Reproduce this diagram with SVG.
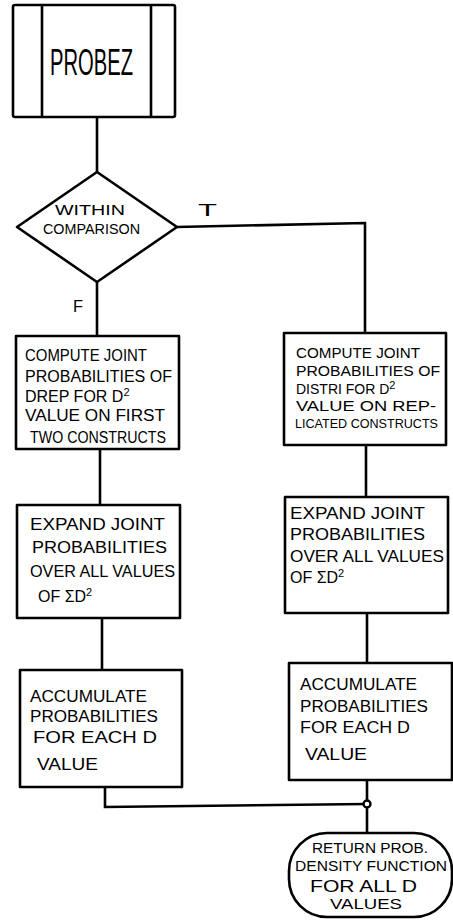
<svg xmlns="http://www.w3.org/2000/svg" width="453" height="923" viewBox="0 0 453 923">
<style>
.s{fill:#fff;stroke:#000;stroke-width:2.6;stroke-linejoin:round}
.c{fill:none;stroke:#000;stroke-width:2.6}
text{font-family:"Liberation Sans",Arial,sans-serif;font-size:16px;fill:#000}
.b{font-size:36px}
.m{font-size:15px}
.r{font-size:14px}
.sm{font-size:13px}
.sup{font-size:11px}
</style>
<rect width="453" height="923" fill="#fff"/>
<g id="connectors">
<path class="c" d="M97,117 V172"/>
<path class="c" d="M97,282 V336"/>
<path class="c" d="M177,227 L365,223 V333"/>
<path class="c" d="M100,449 V505"/>
<path class="c" d="M102,618 V670"/>
<path class="c" d="M105,787 V807 L367,804"/>
<path class="c" d="M366,445 V497"/>
<path class="c" d="M367,613 V663"/>
<path class="c" d="M367,780 V833"/>
<circle cx="367" cy="804" r="3.5" fill="#fff" stroke="#000" stroke-width="2.4"/>
<text x="198" y="216" textLength="19" lengthAdjust="spacingAndGlyphs">T</text>
<text x="73" y="312" textLength="10" lengthAdjust="spacingAndGlyphs">F</text>
</g>
<g id="probez">
<rect class="s" x="13" y="5" width="162" height="112" rx="2"/>
<path class="c" d="M42,5 V117 M151,5 V117"/>
<text class="b" x="50" y="75" textLength="83" lengthAdjust="spacingAndGlyphs">PROBEZ</text>
</g>
<g id="within">
<path class="s" d="M97,172 L177,227 L97,282 L17,227 Z"/>
<text class="m" x="55" y="215" textLength="70" lengthAdjust="spacingAndGlyphs">WITHIN</text>
<text class="m" x="43" y="234" textLength="97" lengthAdjust="spacingAndGlyphs">COMPARISON</text>
</g>
<g id="left1">
<rect class="s" x="16" y="336" width="163" height="113"/>
<text x="25" y="361" textLength="122" lengthAdjust="spacingAndGlyphs">COMPUTE JOINT</text>
<text x="25" y="382" textLength="147" lengthAdjust="spacingAndGlyphs">PROBABILITIES OF</text>
<text x="25" y="402">DREP FOR D<tspan class="sup" dy="-6">2</tspan></text>
<text x="25" y="421" textLength="140" lengthAdjust="spacingAndGlyphs">VALUE ON FIRST</text>
<text x="30" y="443" textLength="136" lengthAdjust="spacingAndGlyphs">TWO CONSTRUCTS</text>
</g>
<g id="right1">
<rect class="s" x="284" y="333" width="162" height="112"/>
<text class="r" x="296" y="358" textLength="124" lengthAdjust="spacingAndGlyphs">COMPUTE JOINT</text>
<text class="r" x="296" y="376" textLength="144" lengthAdjust="spacingAndGlyphs">PROBABILITIES OF</text>
<text class="r" x="296" y="394">DISTRI FOR D<tspan class="sup" dy="-5">2</tspan></text>
<text class="r" x="296" y="411" textLength="140" lengthAdjust="spacingAndGlyphs">VALUE ON REP-</text>
<text class="sm" x="295" y="428" textLength="143" lengthAdjust="spacingAndGlyphs">LICATED CONSTRUCTS</text>
</g>
<g id="left2">
<rect class="s" x="17" y="505" width="163" height="113"/>
<text x="30" y="530" textLength="135" lengthAdjust="spacingAndGlyphs">EXPAND JOINT</text>
<text x="32" y="553" textLength="135" lengthAdjust="spacingAndGlyphs">PROBABILITIES</text>
<text x="30" y="577" textLength="145" lengthAdjust="spacingAndGlyphs">OVER ALL VALUES</text>
<text x="38" y="602">OF  ΣD<tspan class="sup" dy="-6">2</tspan></text>
</g>
<g id="right2">
<rect class="s" x="285" y="497" width="163" height="116"/>
<text x="290" y="519" textLength="135" lengthAdjust="spacingAndGlyphs">EXPAND JOINT</text>
<text x="290" y="540" textLength="135" lengthAdjust="spacingAndGlyphs">PROBABILITIES</text>
<text x="290" y="562" textLength="154" lengthAdjust="spacingAndGlyphs">OVER ALL VALUES</text>
<text x="290" y="583">OF ΣD<tspan class="sup" dy="-6">2</tspan></text>
</g>
<g id="left3">
<rect class="s" x="20" y="670" width="162" height="117"/>
<text x="30" y="702" textLength="117" lengthAdjust="spacingAndGlyphs">ACCUMULATE</text>
<text x="30" y="722" textLength="128" lengthAdjust="spacingAndGlyphs">PROBABILITIES</text>
<text x="33" y="743" textLength="124" lengthAdjust="spacingAndGlyphs">FOR EACH D</text>
<text x="37" y="770" textLength="61" lengthAdjust="spacingAndGlyphs">VALUE</text>
</g>
<g id="right3">
<rect class="s" x="289" y="663" width="163" height="117"/>
<text x="300" y="690" textLength="117" lengthAdjust="spacingAndGlyphs">ACCUMULATE</text>
<text x="300" y="712" textLength="128" lengthAdjust="spacingAndGlyphs">PROBABILITIES</text>
<text x="300" y="733" textLength="110" lengthAdjust="spacingAndGlyphs">FOR EACH D</text>
<text x="305" y="760" textLength="62" lengthAdjust="spacingAndGlyphs">VALUE</text>
</g>
<g id="return">
<rect class="s" x="289" y="833" width="163" height="84" rx="38" ry="38"/>
<text class="m" x="312" y="853" textLength="116" lengthAdjust="spacingAndGlyphs">RETURN PROB.</text>
<text class="m" x="295" y="871" textLength="152" lengthAdjust="spacingAndGlyphs">DENSITY FUNCTION</text>
<text x="310" y="892" textLength="107" lengthAdjust="spacingAndGlyphs">FOR ALL D</text>
<text class="m" x="330" y="909" textLength="72" lengthAdjust="spacingAndGlyphs">VALUES</text>
</g>
</svg>
